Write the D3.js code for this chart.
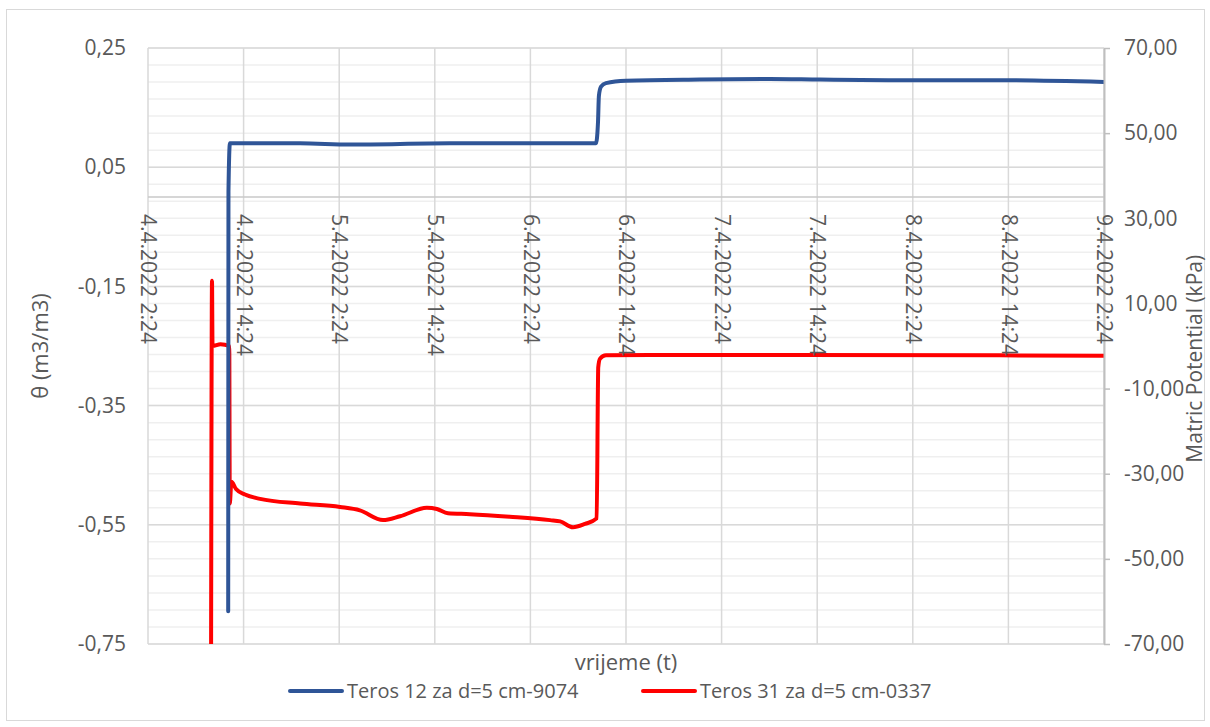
<!DOCTYPE html>
<meta charset="utf-8">
<script src="https://d3js.org/d3.v7.min.js"></script>
<style>
  body { margin: 0; background: #fff; }
  text { font-family: "Open Sans", "Liberation Sans", sans-serif; fill: #595959; }
</style>
<div id="chart"></div>
<script>

// time stamps of the x axis ticks (every 12 h)
var xTickLabels = ["4.4.2022 2:24", "4.4.2022 14:24", "5.4.2022 2:24", "5.4.2022 14:24",
  "6.4.2022 2:24", "6.4.2022 14:24", "7.4.2022 2:24", "7.4.2022 14:24",
  "8.4.2022 2:24", "8.4.2022 14:24", "9.4.2022 2:24"];
var leftTicks = [0.25, 0.05, -0.15, -0.35, -0.55, -0.75];
var rightTicks = [70, 50, 30, 10, -10, -30, -50, -70];

// Teros 12 - volumetric water content (left axis)
var blueTimes = ["4.4.2022 12:28", "4.4.2022 12:30", "4.4.2022 12:41", "4.4.2022 14:20",
  "4.4.2022 21:29", "5.4.2022 3:45", "5.4.2022 16:18", "6.4.2022 1:05", "6.4.2022 10:38",
  "6.4.2022 10:53", "6.4.2022 11:00", "6.4.2022 11:16", "6.4.2022 11:53", "6.4.2022 14:24",
  "6.4.2022 23:41", "7.4.2022 8:28", "7.4.2022 14:45", "8.4.2022 0:47", "8.4.2022 13:18",
  "9.4.2022 2:24"];
var blueTheta = [-0.695, 0.009, 0.090, 0.090, 0.090, 0.088, 0.090, 0.090, 0.090,
  0.125, 0.170, 0.185, 0.191, 0.195, 0.197, 0.198, 0.197, 0.196, 0.196, 0.193];

// Teros 31 - matric potential (right axis)
var redTimes = ["4.4.2022 10:19", "4.4.2022 10:26", "4.4.2022 10:30", "4.4.2022 11:30",
  "4.4.2022 12:36", "4.4.2022 12:40", "4.4.2022 12:52", "4.4.2022 13:27", "4.4.2022 14:35",
  "4.4.2022 16:28", "4.4.2022 21:29", "5.4.2022 2:30", "5.4.2022 5:00", "5.4.2022 7:54",
  "5.4.2022 10:02", "5.4.2022 13:24", "5.4.2022 14:40", "5.4.2022 16:03", "5.4.2022 18:48",
  "5.4.2022 23:48", "6.4.2022 4:52", "6.4.2022 6:08", "6.4.2022 7:45", "6.4.2022 9:15",
  "6.4.2022 10:43", "6.4.2022 10:55", "6.4.2022 11:08", "6.4.2022 11:53", "6.4.2022 17:24",
  "7.4.2022 12:14", "8.4.2022 13:18", "9.4.2022 2:24"];
var redKpa = [-75, 15.3, 0.0, 0.4, 0.0, -37.0, -31.9, -33.6, -34.9,
  -35.9, -37.0, -37.8, -38.6, -40.9, -40.0, -38.0, -38.3, -39.3, -39.5,
  -40.1, -40.9, -41.2, -42.6, -41.8, -40.5, -5.0, -3.0, -2.2, -2.1,
  -2.1, -2.2, -2.3];

var W = 1210, H = 727;
var margin = {top: 48, right: 106, bottom: 83, left: 148};
var plotW = W - margin.left - margin.right,
    plotH = H - margin.top - margin.bottom;

var parse = d3.timeParse("%d.%m.%Y %H:%M");
var loc = d3.formatLocale({decimal: ",", thousands: ".", grouping: [3], currency: ["", ""], minus: "-"});
var fmt2 = loc.format(".2f");

var svg = d3.select("#chart").append("svg")
    .attr("width", W)
    .attr("height", H);

// chart frame
svg.append("rect")
    .attr("x", 6.5).attr("y", 9.5)
    .attr("width", W - 12).attr("height", H - 16)
    .attr("fill", "#fff")
    .attr("stroke", "#d9d9d9");

var g = svg.append("g")
    .attr("transform", "translate(" + margin.left + "," + margin.top + ")");

var xTicks = xTickLabels.map(parse);
var x = d3.scaleTime()
    .domain([xTicks[0], xTicks[xTicks.length - 1]])
    .range([0, plotW]);
var yL = d3.scaleLinear().domain([-0.75, 0.25]).range([plotH, 0]);
var yR = d3.scaleLinear().domain([-70, 70]).range([plotH, 0]);

// minor horizontal gridlines (right axis, every 4 kPa)
g.append("g").selectAll("line")
  .data(d3.range(-70, 71, 4))
  .enter().append("line")
    .attr("x1", 0).attr("x2", plotW)
    .attr("y1", function(d) { return yR(d); })
    .attr("y2", function(d) { return yR(d); })
    .attr("stroke", "#efefef")
    .attr("stroke-width", 1.5);

// major horizontal gridlines (left axis)
g.append("g").selectAll("line")
  .data(leftTicks)
  .enter().append("line")
    .attr("x1", 0).attr("x2", plotW)
    .attr("y1", function(d) { return yL(d); })
    .attr("y2", function(d) { return yL(d); })
    .attr("stroke", "#d9d9d9")
    .attr("stroke-width", 1.5);

// vertical gridlines
g.append("g").selectAll("line")
  .data(xTicks)
  .enter().append("line")
    .attr("x1", function(d) { return x(d); })
    .attr("x2", function(d) { return x(d); })
    .attr("y1", 0).attr("y2", plotH)
    .attr("stroke", "#d9d9d9")
    .attr("stroke-width", 1.5);

// horizontal axis line at theta = 0
g.append("line")
    .attr("x1", 0).attr("x2", plotW)
    .attr("y1", yL(0)).attr("y2", yL(0))
    .attr("stroke", "#c8c8c8")
    .attr("stroke-width", 1.5);

// clip for the series
g.append("defs").append("clipPath")
    .attr("id", "clip")
  .append("rect")
    .attr("width", plotW).attr("height", plotH);

var series = g.append("g").attr("clip-path", "url(#clip)");

var blueData = blueTimes.map(function(t, i) { return {t: parse(t), v: blueTheta[i]}; });
var redData = redTimes.map(function(t, i) { return {t: parse(t), v: redKpa[i]}; });

series.append("path")
    .datum(redData)
    .attr("fill", "none")
    .attr("stroke", "#ff0000")
    .attr("stroke-width", 4)
    .attr("stroke-linejoin", "round")
    .attr("stroke-linecap", "round")
    .attr("d", d3.line()
      .curve(d3.curveMonotoneX)
      .x(function(d) { return x(d.t); })
      .y(function(d) { return yR(d.v); }));

series.append("path")
    .datum(blueData)
    .attr("fill", "none")
    .attr("stroke", "#2f5597")
    .attr("stroke-width", 4)
    .attr("stroke-linejoin", "round")
    .attr("stroke-linecap", "round")
    .attr("d", d3.line()
      .curve(d3.curveMonotoneX)
      .x(function(d) { return x(d.t); })
      .y(function(d) { return yL(d.v); }));

// left axis labels
var axL = g.append("g")
    .call(d3.axisLeft(yL).tickValues(leftTicks).tickSize(0).tickPadding(22).tickFormat(fmt2));
axL.select(".domain").remove();
axL.selectAll("text").style("font-size", "21px").attr("fill", "#595959");

// right axis
var axR = g.append("g")
    .attr("transform", "translate(" + plotW + ",0)")
    .call(d3.axisRight(yR).tickValues(rightTicks).tickSize(6).tickSizeOuter(0).tickPadding(14).tickFormat(fmt2));
axR.select(".domain").attr("stroke", "#bfbfbf").attr("stroke-width", 2);
axR.selectAll("line").attr("stroke", "#bfbfbf").attr("stroke-width", 1.5);
axR.selectAll("text").style("font-size", "21px").attr("fill", "#595959");

// x axis labels, rotated
var tf = d3.timeFormat("%-d.%-m.%Y %-H:%M");
var axX = g.append("g")
    .attr("transform", "translate(0," + yL(0) + ")")
    .call(d3.axisBottom(x).tickValues(xTicks).tickSize(0).tickFormat(tf));
axX.select(".domain").remove();
axX.selectAll("text")
    .attr("transform", "rotate(90)")
    .attr("x", 17).attr("y", 0).attr("dy", "0.35em")
    .attr("text-anchor", "start")
    .style("font-size", "21px")
    .attr("fill", "#595959");

// axis titles
svg.append("text")
    .attr("transform", "translate(40," + (margin.top + yL(-0.25)) + ") rotate(-90)")
    .attr("text-anchor", "middle")
    .attr("dy", "0.35em")
    .style("font-size", "22px")
    .text("θ  (m3/m3)");

svg.append("text")
    .attr("transform", "translate(1195," + (margin.top + yR(-3)) + ") rotate(-90)")
    .attr("text-anchor", "middle")
    .attr("dy", "0.35em")
    .style("font-size", "21px")
    .text("Matric Potential (kPa)");

svg.append("text")
    .attr("x", 626).attr("y", 662)
    .attr("text-anchor", "middle")
    .attr("dy", "0.35em")
    .style("font-size", "22px")
    .text("vrijeme (t)");

// legend
var legend = [
  {name: "Teros 12 za d=5 cm-9074", color: "#2f5597", x: 290},
  {name: "Teros 31 za d=5 cm-0337", color: "#ff0000", x: 643}
];
var lg = svg.append("g").selectAll("g")
  .data(legend)
  .enter().append("g")
    .attr("transform", function(d) { return "translate(" + d.x + ",691)"; });
lg.append("line")
    .attr("x1", 0).attr("x2", 52)
    .attr("stroke", function(d) { return d.color; })
    .attr("stroke-width", 4)
    .attr("stroke-linecap", "round");
lg.append("text")
    .attr("x", 57)
    .attr("dy", "0.35em")
    .style("font-size", "20px")
    .text(function(d) { return d.name; });

</script>
